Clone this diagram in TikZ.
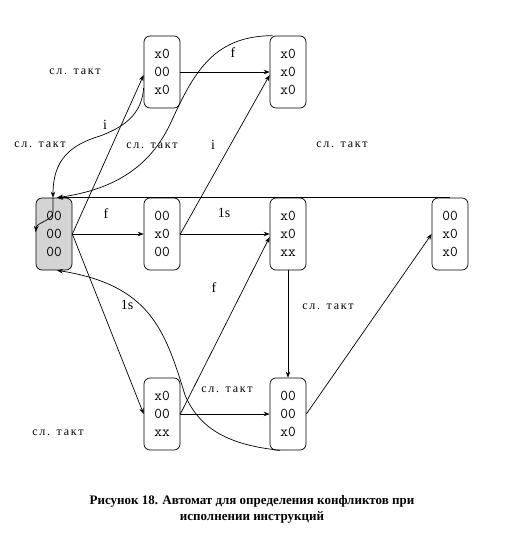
\documentclass[tikz,border=0pt]{standalone}
\usepackage{fontspec}
\setmainfont{Liberation Serif}
\newfontfamily\tactfont[LetterSpace=15]{Liberation Serif}
\usetikzlibrary{arrows.meta}

\begin{document}
\begin{tikzpicture}[x=1pt, y=-1pt, >={Stealth[length=6pt,width=4.5pt]}, line width=0.7pt,
    regbox/.style={draw, rounded corners=6pt, minimum width=36pt, minimum height=72pt,
        inner sep=0pt, align=center, font=\ttfamily\fontsize{15}{18}\selectfont},
    tact/.style={font=\tactfont\fontsize{12}{14}\selectfont},
    sym/.style={font=\fontsize{14}{16}\selectfont}]
    \useasboundingbox (0,0) rectangle (505,534);

    % состояния автомата
    \node[regbox, fill=black!17] (A) at (54,234) {00\\00\\00};
    \node[regbox] (B) at (162,72)  {x0\\00\\x0};
    \node[regbox] (C) at (288,72)  {x0\\x0\\x0};
    \node[regbox] (D) at (162,234) {00\\x0\\00};
    \node[regbox] (E) at (288,234) {x0\\x0\\xx};
    \node[regbox] (F) at (450,234) {00\\x0\\x0};
    \node[regbox] (G) at (162,414) {x0\\00\\xx};
    \node[regbox] (H) at (288,414) {00\\00\\x0};

    % прямые переходы
    \draw[->] (A.east) -- (D.west);
    \draw[->] (D.east) -- (E.west);
    \draw[->] (B.east) -- (C.west);
    \draw[->] (A.east) -- ([yshift=-3pt]B.west);
    \draw[->] (D.east) -- ([yshift=-3pt]C.west);
    \draw[->] (A.east) -- (G.west);
    \draw[->] (G.east) -- (H.west);
    \draw[->] (G.east) -- ([yshift=-3pt]E.west);
    \draw[->] (E.south) -- (H.north);
    \draw[->] (H.east) -- (F.west);
    \draw[->] (F.north) -- ([xshift=3pt]A.north);

    % возвраты в начальное состояние
    \draw[->] ([xshift=3pt]C.north west) .. controls (215,36) and (195,70) .. (172,120)
        .. controls (150,170) and (110,190) .. ([xshift=3pt]A.north);
    \draw[->] ([yshift=-16pt]B.west) .. controls (142,110) and (130,125) .. (100,136)
        .. controls (70,145) and (53,160) .. ([xshift=-1pt]A.north);
    \draw[->] ([xshift=-8pt]H.south) .. controls (230,445) and (200,430) .. (185,395)
        .. controls (165,330) and (150,285) .. ([xshift=3pt]A.south);
    \draw[->] ([xshift=-1pt]A.north) -- ++(0,15) .. controls +(-2,9) and +(1,-10)
        .. ([yshift=2pt]A.west);

    % подписи
    \node[tact] (t1) at (75,72)   {сл. такт};
    \node[tact] (t2) at (40,145)  {сл. такт};
    \node[tact] (t3) at (152,146) {сл. такт};
    \node[tact] (t4) at (342,145) {сл. такт};
    \node[tact] (t5) at (328,307) {сл. такт};
    \node[tact] (t6) at (227,390) {сл. такт};
    \node[tact] (t7) at (58,433)  {сл. такт};
    \node[sym] (s1) at (105,125) {i};
    \node[sym] (s2) at (233,53)  {f};
    \node[sym] (s3) at (213,145) {i};
    \node[sym] (s4) at (106,214) {f};
    \node[sym] (s5) at (224,213) {1s};
    \node[sym] (s6) at (127,305) {1s};
    \node[sym] (s7) at (214,288) {f};

    \node[font=\bfseries\fontsize{13}{16}\selectfont, align=center] (cap) at (252,509)
        {Рисунок 18. Автомат для определения конфликтов при\\исполнении инструкций};
\end{tikzpicture}
\end{document}
